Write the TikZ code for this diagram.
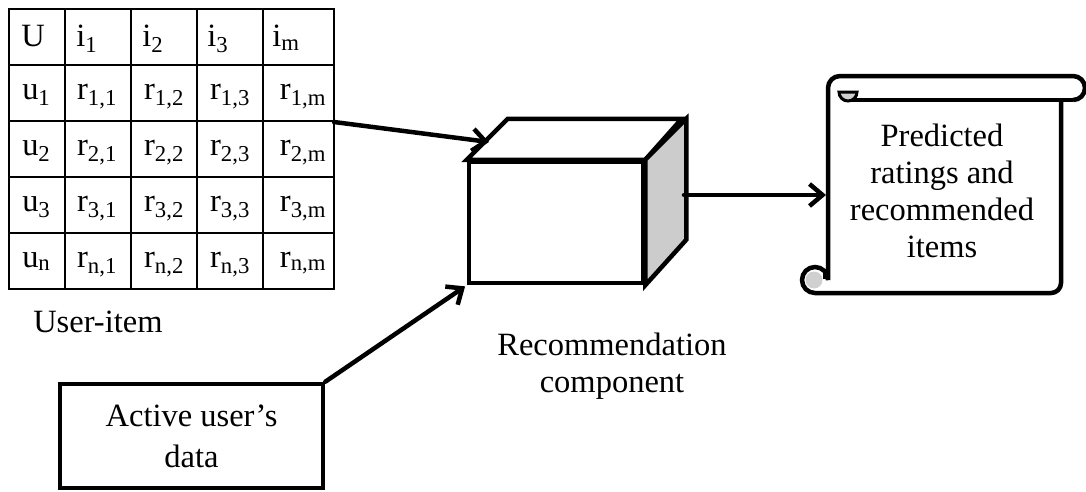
\documentclass[tikz,border=0pt]{standalone}
\usepackage{fontspec}
\setmainfont{Liberation Serif}
\usetikzlibrary{arrows.meta}
\definecolor{sidegray}{HTML}{CCCCCC}
\definecolor{curlgray}{HTML}{D0D0D0}

\begin{document}
\begin{tikzpicture}[x=1pt, y=-1pt, line width=4.5pt, font=\fontsize{32.5}{37}\selectfont,
        grid/.style={line width=1.5pt},
        arr/.style={-{Straight Barb[length=13pt,width=22pt]}, line cap=round},
        head/.style={anchor=base west, inner sep=0pt},
        cell/.style={anchor=base, inner sep=0pt}]
        \useasboundingbox (0,0) rectangle (1086,491);
        % user-item table
        \node[draw, grid, minimum width=325pt, minimum height=280pt, inner sep=0pt] (table) at (171.5,149) {};
        \draw[grid] (65,9)--(65,289);
        \draw[grid] (131,9)--(131,289);
        \draw[grid] (197,9)--(197,289);
        \draw[grid] (263,9)--(263,289);
        \draw[grid] (9,65)--(334,65);
        \draw[grid] (9,121)--(334,121);
        \draw[grid] (9,177)--(334,177);
        \draw[grid] (9,233)--(334,233);
        % header row
        \node[head] (U) at (19,46.5) {U};
        \node[head] (i1) at (74,46.5) {i\textsubscript{1}};
        \node[head] (i2) at (140,46.5) {i\textsubscript{2}};
        \node[head] (i3) at (205,46.5) {i\textsubscript{3}};
        \node[head] (im) at (270,46.5) {i\textsubscript{m}};
        % 1st row
        \node[head] (u1) at (20,99) {u\textsubscript{1}};
        \node[cell] (r11) at (97,99) {r\textsubscript{1,1}};
        \node[cell] (r12) at (164,99) {r\textsubscript{1,2}};
        \node[cell] (r13) at (230,99) {r\textsubscript{1,3}};
        \node[cell] (r1m) at (303,99) {r\textsubscript{1,m}};
        % 2nd row
        \node[head] (u2) at (20,155) {u\textsubscript{2}};
        \node[cell] (r21) at (97,155) {r\textsubscript{2,1}};
        \node[cell] (r22) at (164,155) {r\textsubscript{2,2}};
        \node[cell] (r23) at (230,155) {r\textsubscript{2,3}};
        \node[cell] (r2m) at (303,155) {r\textsubscript{2,m}};
        % 3rd row
        \node[head] (u3) at (20,211) {u\textsubscript{3}};
        \node[cell] (r31) at (97,211) {r\textsubscript{3,1}};
        \node[cell] (r32) at (164,211) {r\textsubscript{3,2}};
        \node[cell] (r33) at (230,211) {r\textsubscript{3,3}};
        \node[cell] (r3m) at (303,211) {r\textsubscript{3,m}};
        % last row
        \node[head] (un) at (20,267) {u\textsubscript{n}};
        \node[cell] (rn1) at (97,267) {r\textsubscript{n,1}};
        \node[cell] (rn2) at (164,267) {r\textsubscript{n,2}};
        \node[cell] (rn3) at (230,267) {r\textsubscript{n,3}};
        \node[cell] (rnm) at (303,267) {r\textsubscript{n,m}};
        \node[head] (useritem) at (31,332) {User-item};

        % recommendation component (cube)
        \node[draw, fill=white, minimum width=174pt, minimum height=121pt, inner sep=0pt] (cube) at (556,222.5) {};
        \draw[fill=white] (cube.north west) -- ++(41,-41) -- ++(174,0) -- (cube.north east) -- cycle;
        \draw[fill=sidegray] (cube.north east) -- ++(41,-41) -- ++(0,121) -- (cube.south east) -- cycle;
        \node[align=center] (reclabel) at (612,366) {Recommendation\\component};

        % active user's data
        \node[draw, align=center, minimum width=263pt, minimum height=104pt] (data) at (191.5,436) {Active user’s\\[4pt]data};

        % predicted ratings (scroll)
        \node[align=center] (scroll) at (942,191) {Predicted\\ratings and\\recommended\\items};
        \draw (1073,100) -- (850,100);
        \draw (1061,100) -- (1061,283) arc[start angle=0, end angle=90, radius=10] -- (815,293)
            arc[start angle=90, end angle=360, radius=13] -- (828,88)
            arc[start angle=180, end angle=270, radius=12] -- (1073,76)
            arc[start angle=-90, end angle=90, radius=12];
        \draw[fill=curlgray, line width=3pt] (839,92) -- (857,92) arc[start angle=0, end angle=180, radius=9] -- cycle;
        \fill[curlgray] (814,280) circle[radius=8.5];
        \draw[line width=3pt] (824,270) -- (824,279);

        % Now the arrows between the parts
        \coordinate (tableout) at (334,122);
        \coordinate (cubein) at (489,142);
        \coordinate (cubeout) at (684,195);
        \coordinate (scrollin) at (826,195);
        \draw[arr] (tableout) -- (cubein);
        \draw[arr, shorten >=2pt] (data.north east) -- (cube.south west);
        \draw[arr] (cubeout) -- (scrollin);
    \end{tikzpicture}
\end{document}
